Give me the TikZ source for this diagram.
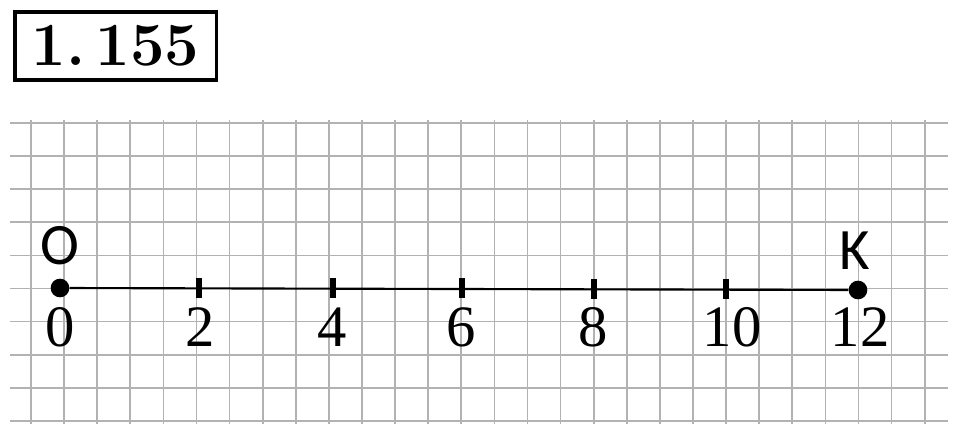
\documentclass[tikz,border=0pt]{standalone}
\usepackage{fontspec}
\newfontfamily\pointfont{Carlito}
\newfontfamily\numfont{Liberation Serif}
\begin{document}
\begin{tikzpicture}[x=0.75pt, y=-0.75pt,
  grid line/.style={draw=black!30, line width=1.3pt},
  dot node/.style={circle, fill, minimum size=14pt, inner sep=0pt},
  tick node/.style={rectangle, fill, minimum width=3.8pt, minimum height=15pt, inner sep=0pt},
  num node/.style={font=\numfont\fontsize{44}{44}\selectfont, inner sep=0pt},
  point node/.style={font=\pointfont\fontsize{44}{44}\selectfont, inner sep=0pt}]
\useasboundingbox (0,0) rectangle (960,439);
% number of the exercise
\node [draw, line width=2.5pt, minimum width=151pt, minimum height=51pt, inner sep=0pt,
  font=\bfseries\fontsize{46}{46}\selectfont] (title) at (115.5,46) {1.\,155};
% squared paper
\foreach \i in {0,...,27}
  \draw [grid line] (31+33.1*\i,120) -- (31+33.1*\i,424);
\foreach \j in {0,...,9}
  \draw [grid line] (10,123+33.1*\j) -- (948,123+33.1*\j);
% points and ticks
\node [dot node] (o) at (60,288) {};
\node [dot node] (k) at (858,290) {};
\node [tick node] (t2) at (199,288) {};
\node [tick node] (t4) at (333,288) {};
\node [tick node] (t6) at (462,288) {};
\node [tick node] (t8) at (594,289) {};
\node [tick node] (t10) at (726,289) {};
\path (o) edge [line width=1.6pt] (k);
% labels
\node [point node] (lo) at (60,246) {O};
\node [point node] (lk) at (855,251) {K};
\node [num node] (n0) at (60,327) {0};
\node [num node] (n2) at (200,327) {2};
\node [num node] (n4) at (332,327) {4};
\node [num node] (n6) at (461,327) {6};
\node [num node] (n8) at (593,327) {8};
\node [num node] (n10) at (732,327) {10};
\node [num node] (n12) at (860,327) {12};
\end{tikzpicture}
\end{document}
